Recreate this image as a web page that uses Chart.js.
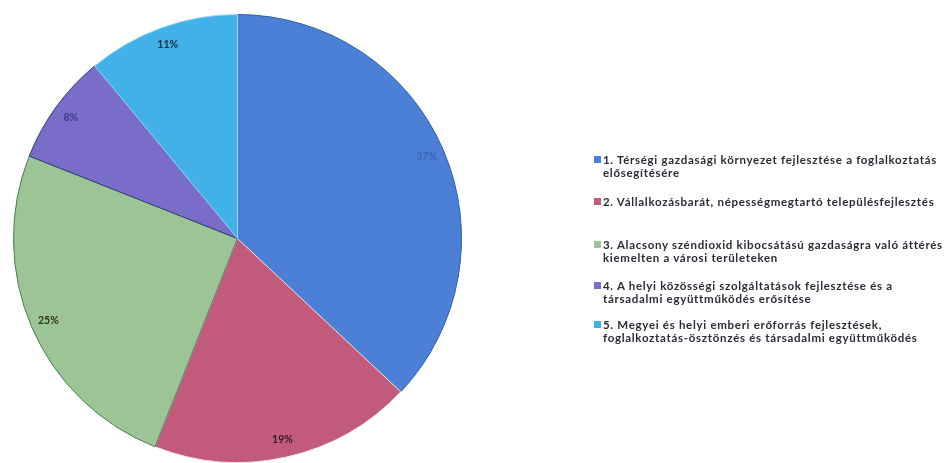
<!DOCTYPE html>
<html>
<head>
<meta charset="utf-8">
<script src="https://cdn.jsdelivr.net/npm/chart.js@4"></script>
<style>
  body { margin: 0; background: #fff; }
  #wrap { position: relative; width: 946px; height: 463px; }
  #pie { position: absolute; left: 0; top: 0; }
  #legend { position: absolute; left: 593px; top: 0; font: 700 11.5px "Lato", sans-serif; letter-spacing: 0.7px; color: #2b2c38; }
  .item { position: absolute; left: 0; width: 353px; line-height: 13px; padding-left: 10px; white-space: nowrap; }
  .box { position: absolute; left: 1px; top: 3px; width: 7px; height: 7px; }
</style>
</head>
<body>
<div id="wrap">
  <canvas id="pie" width="946" height="463"></canvas>
  <div id="legend"></div>
</div>
<script>
// data
const categories = [
    ["1. Térségi gazdasági környezet fejlesztése a foglalkoztatás", "elősegítésére"],
    ["2. Vállalkozásbarát, népességmegtartó településfejlesztés"],
    ["3. Alacsony széndioxid kibocsátású gazdaságra való áttérés", "kiemelten a városi területeken"],
    ["4. A helyi közösségi szolgáltatások  fejlesztése és a", "társadalmi együttműködés erősítése"],
    ["5. Megyei és helyi emberi erőforrás fejlesztések,", "foglalkoztatás-ösztönzés  és társadalmi együttműködés"],
];
const shares = [37, 19, 25, 8, 11];

// styles
const colors = ["#4c7fd6", "#c25a7c", "#9dc496", "#7a6cc9", "#42b1e8"];
const borders = ["#2f5fa8", "#f2e6ea", "#4d7a55", "#2c3f7a", "#9fd6f2"];
const labelColors = ["#3c66b8", "#3a1a28", "#2a3320", "#433a8a", "#1c2a44"];
const legendTops = [153, 195, 238, 279, 318];

const pctLabels = {
    id: "pctLabels",
    afterDatasetsDraw(chart) {
        const c = chart.ctx;
        const meta = chart.getDatasetMeta(0);
        c.save();
        c.font = "700 10.5px Lato, sans-serif";
        c.textAlign = "center";
        c.textBaseline = "middle";
        meta.data.forEach((arc, i) => {
            const mid = (arc.startAngle + arc.endAngle) / 2;
            const r = arc.outerRadius * 0.92;
            c.fillStyle = labelColors[i];
            c.fillText(shares[i] + "%", arc.x + Math.cos(mid) * r, arc.y + Math.sin(mid) * r);
        });
        c.restore();
    },
};

new Chart(document.getElementById("pie"), {
    type: "pie",
    data: {
        labels: categories.map(l => l.join(" ")),
        datasets: [{
            data: shares,
            backgroundColor: colors,
            borderColor: borders,
            borderWidth: 1,
        }],
    },
    options: {
        responsive: false,
        animation: false,
        layout: { padding: { left: 13, top: 14, right: 484, bottom: 0 } },
        plugins: {
            legend: { display: false },
            tooltip: { enabled: false },
        },
    },
    plugins: [pctLabels],
});

// legend
const legend = document.getElementById("legend");
categories.forEach((lines, i) => {
    const item = document.createElement("div");
    item.className = "item";
    item.style.top = legendTops[i] + "px";
    const box = document.createElement("span");
    box.className = "box";
    box.style.background = colors[i];
    item.appendChild(box);
    item.appendChild(document.createTextNode(lines[0]));
    for (let k = 1; k < lines.length; k++) {
        item.appendChild(document.createElement("br"));
        item.appendChild(document.createTextNode(lines[k]));
    }
    legend.appendChild(item);
});
</script>
</body>
</html>
